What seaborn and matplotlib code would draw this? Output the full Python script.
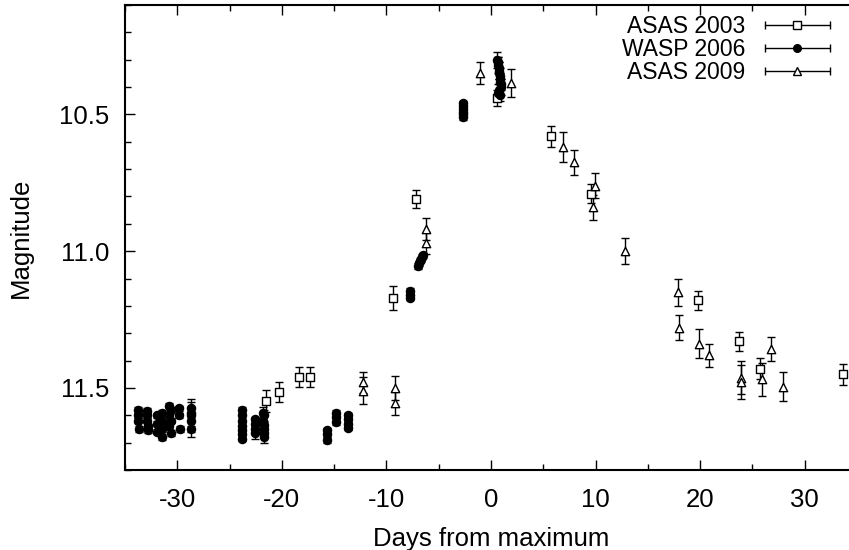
import numpy as np
import pandas as pd
import matplotlib
matplotlib.use('Agg')
import matplotlib.pyplot as plt
import seaborn as sns
from matplotlib.lines import Line2D
from matplotlib.legend_handler import HandlerLine2D, HandlerTuple
from matplotlib.ticker import MultipleLocator, FormatStrFormatter

# --- Data ---
# ASAS 2003 (open squares)
asas03_days = [-21.5, -20.3, -18.4, -17.3, -9.35, -7.15, 0.55, 5.7, 9.6, 19.8, 23.7, 25.7, 33.7]
asas03_mag = [11.547, 11.515, 11.46, 11.46, 11.17, 10.81, 10.44, 10.58, 10.79, 11.18, 11.33, 11.43, 11.45]
asas03_err = [0.04, 0.037, 0.038, 0.038, 0.044, 0.033, 0.03, 0.038, 0.035, 0.036, 0.036, 0.038, 0.038]

# WASP 2006 (filled circles)
wasp06_days = [-33.8, -33.8, -33.8, -33.7,
               -32.9, -32.9, -32.9, -32.8, -32.8,
               -31.9, -31.9, -31.9, -31.5, -31.5, -31.5, -31.5,
               -30.8, -30.8, -30.8, -30.6, -30.6, -30.6,
               -29.8, -29.8, -29.7,
               -28.7, -28.7, -28.7, -28.7, -28.7,
               -23.8, -23.8, -23.8, -23.8, -23.8, -23.8, -23.8,
               -22.6, -22.6, -22.6, -22.6,
               -21.8, -21.8, -21.7, -21.7, -21.7, -21.7, -21.7,
               -15.7, -15.7, -15.7,
               -14.8, -14.8, -14.8,
               -13.7, -13.7, -13.7, -13.7,
               -7.75, -7.75, -7.7,
               -7.0, -6.9, -6.8, -6.7, -6.6, -6.5,
               -2.7, -2.7, -2.7, -2.7, -2.7, -2.7,
               0.6, 0.7, 0.7, 0.8, 0.8, 0.8, 0.9, 0.9, 0.9, 1.0, 1.0, 0.8, 0.7, 0.9]
wasp06_mag = [11.58, 11.6, 11.62, 11.65,
              11.585, 11.6, 11.62, 11.64, 11.655,
              11.6, 11.63, 11.66, 11.59, 11.62, 11.65, 11.68,
              11.565, 11.6, 11.64, 11.58, 11.62, 11.665,
              11.575, 11.6, 11.65,
              11.575, 11.59, 11.6, 11.62, 11.65,
              11.58, 11.6, 11.62, 11.64, 11.655, 11.67, 11.685,
              11.615, 11.63, 11.65, 11.665,
              11.59, 11.62, 11.6, 11.635, 11.65, 11.665, 11.68,
              11.655, 11.67, 11.69,
              11.59, 11.605, 11.625,
              11.6, 11.615, 11.63, 11.645,
              11.145, 11.16, 11.17,
              11.055, 11.045, 11.035, 11.03, 11.02, 11.015,
              10.46, 10.47, 10.48, 10.49, 10.5, 10.51,
              10.3, 10.31, 10.32, 10.33, 10.34, 10.35, 10.36, 10.37, 10.38, 10.39, 10.4, 10.41, 10.42, 10.43]
wasp06_err = [0.01, 0.01, 0.01, 0.01,
              0.01, 0.01, 0.01, 0.01, 0.01,
              0.01, 0.01, 0.01, 0.01, 0.01, 0.01, 0.01,
              0.01, 0.01, 0.01, 0.01, 0.01, 0.01,
              0.01, 0.01, 0.01,
              0.025, 0.02, 0.06, 0.02, 0.03,
              0.01, 0.02, 0.01, 0.02, 0.01, 0.02, 0.01,
              0.01, 0.02, 0.01, 0.02,
              0.02, 0.01, 0.02, 0.01, 0.02, 0.01, 0.02,
              0.01, 0.01, 0.01,
              0.01, 0.01, 0.01,
              0.01, 0.01, 0.01, 0.01,
              0.01, 0.01, 0.01,
              0.01, 0.01, 0.01, 0.01, 0.01, 0.01,
              0.01, 0.01, 0.01, 0.01, 0.01, 0.01,
              0.03, 0.02, 0.03, 0.02, 0.03, 0.02, 0.03, 0.02, 0.03, 0.02, 0.03, 0.02, 0.03, 0.02]

# ASAS 2009 (open triangles)
asas09_days = [-12.2, -12.2, -9.2, -9.2, -6.2, -6.2, -1.05, 1.9, 6.9, 7.9, 9.9, 9.8, 12.8,
               17.9, 18.0, 19.9, 20.8, 23.9, 23.9, 25.9, 26.8, 27.9]
asas09_mag = [11.48, 11.51, 11.5, 11.555, 10.92, 10.97, 10.35, 10.385, 10.62, 10.675, 10.76, 10.84, 11.0,
              11.15, 11.28, 11.338, 11.381, 11.463, 11.478, 11.469, 11.358, 11.496]
asas09_err = [0.04, 0.05, 0.045, 0.045, 0.04, 0.04, 0.04, 0.05, 0.055, 0.045, 0.045, 0.045, 0.047,
              0.049, 0.046, 0.053, 0.042, 0.06, 0.062, 0.06, 0.044, 0.053]

series = [
    ('ASAS 2003', asas03_days, asas03_mag, asas03_err, 's', 'white', 36),
    ('WASP 2006', wasp06_days, wasp06_mag, wasp06_err, 'o', 'black', 34),
    ('ASAS 2009', asas09_days, asas09_mag, asas09_err, '^', 'white', 36),
]

# --- Plot ---
sns.set_theme(style='ticks')
plt.rcParams['font.family'] = ['Liberation Sans', 'DejaVu Sans']
plt.rcParams['axes.unicode_minus'] = False
plt.rcParams['text.color'] = 'black'
plt.rcParams['axes.labelcolor'] = 'black'
FS = 18.5

fig = plt.figure(figsize=(8.49, 5.5), dpi=100)
ax = fig.add_axes([125 / 849, 1 - 470 / 550, 732 / 849, 465 / 550])

handles = []
hmap = {}
for name, d, m, e, mk, fc, size in series:
    df = pd.DataFrame({'days': d, 'mag': m, 'err': e})
    ax.errorbar(df['days'], df['mag'], yerr=df['err'], fmt='none', ecolor='black',
                elinewidth=1.0, capsize=3, capthick=1.0, zorder=2)
    sns.scatterplot(data=df, x='days', y='mag', marker=mk, s=size, facecolor=fc,
                    edgecolor='black', linewidth=1.0, ax=ax, zorder=3)
    # gnuplot-style key sample: horizontal bar with end caps and the point in the middle
    bar = Line2D([], [], color='black', lw=1.0, marker='|', markersize=6, markeredgewidth=1.0)
    pt = Line2D([], [], ls='none', marker=mk, markersize=6 if mk != 'o' else 5.5,
                markerfacecolor=fc, markeredgecolor='black', markeredgewidth=1.0)
    hmap[bar] = HandlerLine2D(numpoints=2)
    hmap[pt] = HandlerLine2D(numpoints=1)
    handles.append((bar, pt))

hmap[tuple] = HandlerTuple(ndivide=1)
leg = ax.legend(handles, [s[0] for s in series], handler_map=hmap, loc='upper right',
                bbox_to_anchor=((837 - 125) / 732, 1.0 - 10 / 465), bbox_transform=ax.transAxes,
                frameon=False, markerfirst=False, fontsize=16.5, handlelength=3.45,
                handletextpad=0.55, labelspacing=0.0, borderpad=0, borderaxespad=0)
for t in leg.get_texts():
    t.set_color('black')

ax.set_xlim(-35, 35)
ax.set_ylim(11.8, 10.1)
ax.xaxis.set_major_locator(MultipleLocator(10))
ax.xaxis.set_minor_locator(MultipleLocator(5))
ax.yaxis.set_major_locator(MultipleLocator(0.5))
ax.yaxis.set_minor_locator(MultipleLocator(0.1))
ax.yaxis.set_major_formatter(FormatStrFormatter('%.1f'))
ax.tick_params(which='both', direction='in', top=True, right=False, colors='black',
               labelsize=FS, width=1.0)
ax.tick_params(which='major', length=7)
ax.tick_params(which='minor', length=4)
ax.tick_params(axis='x', which='major', pad=13)
ax.tick_params(axis='y', which='major', pad=11)
for sp in ax.spines.values():
    sp.set_linewidth(1.5)
    sp.set_color('black')

ax.set_xlabel('Days from maximum', fontsize=FS, labelpad=11)
ax.set_ylabel('Magnitude', fontsize=FS, labelpad=19)

fig.savefig('out.png', dpi=100)
